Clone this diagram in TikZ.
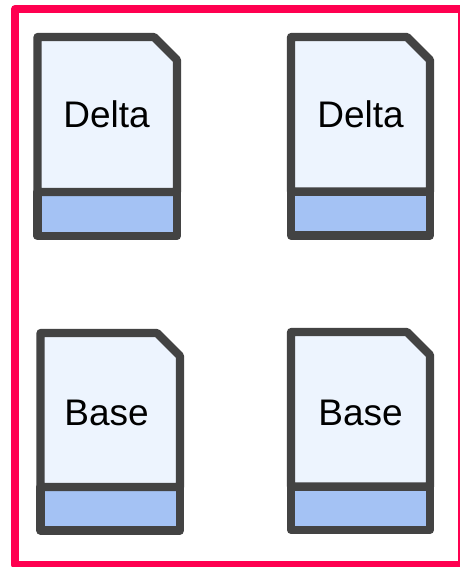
\documentclass[tikz,border=0pt]{standalone}
\usepackage{fontspec}
\setmainfont{Liberation Sans}
\definecolor{framecol}{HTML}{FF0050}
\definecolor{inkcol}{HTML}{434343}
\definecolor{paper}{HTML}{EDF4FE}
\definecolor{band}{HTML}{A4C2F4}
\tikzset{
  x=1pt,y=-1pt,
  framebox/.style={draw=framecol,line width=8pt,line join=round},
  docbody/.style={draw=inkcol,fill=paper,line width=8.2pt,line join=round},
  docband/.style={draw=inkcol,fill=band,line width=8.2pt,line join=round},
  doclabel/.style={anchor=base,inner sep=0pt,text=black,font=\fontsize{37pt}{38pt}\selectfont}
}
% #1 left, #2 right, #3 top, #4 divider, #5 bottom
\newcommand{\docicon}[5]{%
  \draw[docband] (#1,#4) rectangle (#2,#5);
  \draw[docbody] (#1,#3) -- (#2-23,#3) -- (#2,#3+23) -- (#2,#4) -- (#1,#4) -- cycle;
}
\begin{document}
\begin{tikzpicture}
\useasboundingbox (0,0) rectangle (460,567);
\clip (0,0) rectangle (460,567);
\fill[white] (0,0) rectangle (460,567);
\draw[framebox] (15,9) rectangle (462,565);
\docicon{37.5}{177}{37}{192}{236}
\docicon{291}{430}{37}{191.5}{235.5}
\docicon{40.5}{180}{333}{487}{530.5}
\docicon{291}{430}{332}{486.5}{530}
\node[doclabel] (d1) at (106.5,128) {Delta};
\node[doclabel] (d2) at (360.5,128) {Delta};
\node[doclabel] (b1) at (106.5,425) {Base};
\node[doclabel] (b2) at (360.5,425) {Base};
\end{tikzpicture}
\end{document}
